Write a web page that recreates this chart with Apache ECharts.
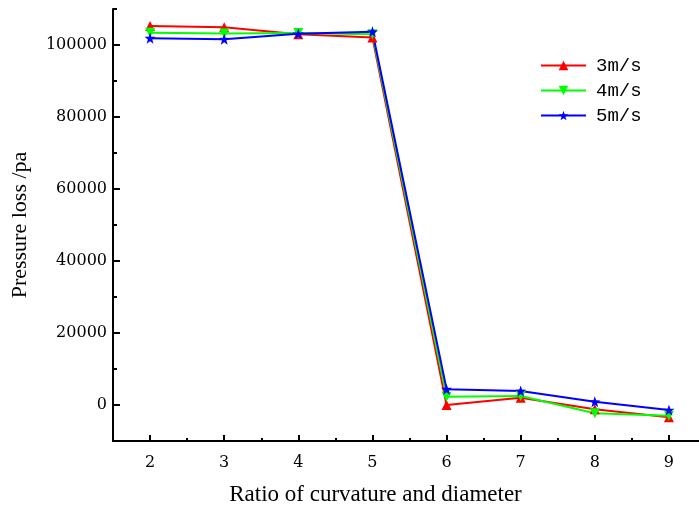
<!DOCTYPE html>
<html><head><meta charset="utf-8">
<script src="https://cdn.jsdelivr.net/npm/echarts@6/dist/echarts.min.js"></script>
<style>html,body{margin:0;padding:0;background:#fff}#c{width:699px;height:507px}</style>
</head><body><div id="c"></div>
<script>
const ratios = [2, 3, 4, 5, 6, 7, 8, 9];
const v3 = [105300, 104900, 103000, 102100, 0, 2000, -1200, -3400];
const v4 = [103400, 103200, 103300, 103000, 2300, 2500, -2300, -3000];
const v5 = [101900, 101600, 103100, 103700, 4400, 3900, 900, -1400];
const seriesNames = ['3m/s', '4m/s', '5m/s'];
const yTickLabels = [0, 20000, 40000, 60000, 80000, 100000];
const xTitle = 'Ratio of curvature and diameter';
const yTitle = 'Pressure loss /pa';

const yMin = -10000, yMax = 110000, xMin = 1.5, xMax = 9.5;
const star = 'path://M0,-10L2.35,-3.24L9.51,-3.09L3.8,1.24L5.88,8.09L0,4L-5.88,8.09L-3.8,1.24L-9.51,-3.09L-2.35,-3.24Z';
const colors = ['#ff0000', '#00ff00', '#0000ff'];
const serif = 'Liberation Serif';
const numFont = 'DejaVu Serif';

const chart = echarts.init(document.getElementById('c'), null, {renderer: 'canvas'});
const mk = (arr) => ratios.map((x, i) => [x, arr[i]]);
chart.setOption({
  animation: false,
  backgroundColor: '#fff',
  grid: {left: 113, width: 593, top: 9, height: 432, containLabel: false, outerBoundsMode: 'none'},
  legend: {
    orient: 'vertical', left: 535, top: 51,
    itemWidth: 45, itemHeight: 12, itemGap: 6,
    data: seriesNames,
    textStyle: {fontFamily: 'Liberation Mono', fontSize: 19, color: '#000', padding: [0, 0, 0, 5], lineHeight: 19}
  },
  xAxis: [
    {
      type: 'value', min: xMin, max: xMax, interval: 0.5, position: 'bottom',
      axisLine: {show: true, onZero: false, lineStyle: {color: '#000', width: 2}},
      axisTick: {show: true, inside: true, length: 3, lineStyle: {color: '#000', width: 2}},
      axisLabel: {show: false}, splitLine: {show: false},
      name: xTitle, nameLocation: 'middle', nameGap: 42,
      nameTextStyle: {fontFamily: serif, fontSize: 23, color: '#000', padding: [0, 68, 0, 0]}
    },
    {
      type: 'value', min: xMin, max: xMax, splitNumber: 8, position: 'bottom',
      axisLine: {show: false, onZero: false},
      axisTick: {show: true, inside: true, length: 6, lineStyle: {color: '#000', width: 2}},
      axisLabel: {show: true, showMinLabel: false, showMaxLabel: false, margin: 14,
        fontFamily: numFont, fontSize: 16, color: '#000', formatter: v => String(v)},
      splitLine: {show: false}
    }
  ],
  yAxis: [
    {
      type: 'value', min: yMin, max: yMax, interval: 10000, position: 'left',
      axisLine: {show: true, onZero: false, lineStyle: {color: '#000', width: 2}},
      axisTick: {show: true, inside: true, length: 4, lineStyle: {color: '#000', width: 2}},
      axisLabel: {show: false}, splitLine: {show: false},
      name: yTitle, nameLocation: 'middle', nameGap: 82, nameRotate: 90,
      nameTextStyle: {fontFamily: serif, fontSize: 22, color: '#000'}
    },
    {
      type: 'value', min: yMin, max: yMax, splitNumber: 6, position: 'left',
      axisLine: {show: false, onZero: false},
      axisTick: {show: true, inside: true, length: 7, lineStyle: {color: '#000', width: 2}},
      axisLabel: {show: true, showMinLabel: false, showMaxLabel: false, margin: 6,
        fontFamily: numFont, fontSize: 16, color: '#000',
        formatter: v => yTickLabels.indexOf(v) >= 0 ? String(v) : ''},
      splitLine: {show: false}
    }
  ],
  series: [
    {name: seriesNames[0], type: 'line', data: mk(v3), symbol: 'triangle', symbolSize: 10,
     itemStyle: {color: colors[0]}, lineStyle: {color: colors[0], width: 2}},
    {name: seriesNames[1], type: 'line', data: mk(v4), symbol: 'triangle', symbolRotate: 180, symbolSize: 10,
     itemStyle: {color: colors[1]}, lineStyle: {color: colors[1], width: 2}},
    {name: seriesNames[2], type: 'line', data: mk(v5), symbol: star, symbolSize: 11,
     itemStyle: {color: colors[2]}, lineStyle: {color: colors[2], width: 2}}
  ]
});
</script></body></html>
